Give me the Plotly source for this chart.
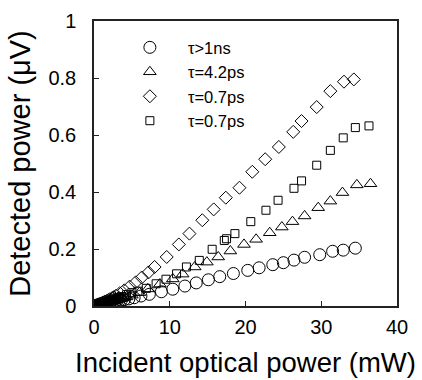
import plotly.graph_objects as go

# ---- data ----
names = ["τ>1ns", "τ=4.2ps", "τ=0.7ps", "τ=0.7ps"]

circ_x = [0.0, 0.15, 0.3, 0.45, 0.6, 0.75, 0.9, 1.05, 1.2, 1.4, 1.6, 1.8, 2.0, 2.2, 2.4, 2.6, 2.8,
          3.0, 3.3, 3.6, 4.0, 4.6, 5.3, 6.2, 7.3, 8.9,
          10.4, 12.0, 13.5, 15.1, 16.6, 18.4, 20.3, 21.8, 23.6, 25.0, 26.4, 27.8, 29.8, 31.5, 32.9, 34.5]
circ_y = [0.000, 0.001, 0.002, 0.003, 0.003, 0.004, 0.005, 0.006, 0.006, 0.007, 0.008, 0.010, 0.011,
          0.012, 0.013, 0.014, 0.015, 0.016, 0.018, 0.020, 0.022, 0.025,
          0.029, 0.035, 0.041, 0.050, 0.059, 0.070, 0.081, 0.092, 0.103, 0.114, 0.125, 0.134, 0.145,
          0.152, 0.161, 0.171, 0.180, 0.192, 0.196, 0.203]

tri_x = [0.0, 0.15, 0.3, 0.45, 0.6, 0.75, 0.9, 1.05, 1.2, 1.35, 1.5, 1.7, 1.9, 2.1, 2.3, 2.5, 2.7,
         2.9, 3.2, 3.5, 3.7, 4.0, 4.3, 5.0, 6.0, 7.1, 8.7, 10.4,
         11.7, 13.3, 14.9, 16.4, 18.0, 19.8, 21.4, 23.2, 24.8, 26.2, 27.8, 29.6, 31.2, 32.8, 34.7, 36.5]
tri_y = [0.000, 0.001, 0.002, 0.003, 0.004, 0.005, 0.006, 0.007, 0.008, 0.009, 0.010, 0.012, 0.013,
         0.015, 0.016, 0.018, 0.019, 0.021, 0.023, 0.026, 0.027, 0.030, 0.032, 0.038,
         0.047, 0.060, 0.077, 0.095, 0.112, 0.137, 0.154, 0.172, 0.193, 0.216, 0.234, 0.257, 0.277,
         0.296, 0.316, 0.345, 0.368, 0.398, 0.425, 0.429]

dia_x = [0.0, 0.15, 0.3, 0.45, 0.6, 0.75, 0.9, 1.05, 1.2, 1.35, 1.5, 1.7, 1.9, 2.1, 2.4, 2.6,
         2.9, 3.4, 4.0, 4.7, 5.5, 6.3, 7.2, 8.0, 9.6,
         11.2, 12.6, 14.3, 15.8, 17.4, 19.2, 20.9, 22.6, 24.4, 26.3, 27.4, 29.4, 31.2, 33.0, 34.3]
dia_y = [0.000, 0.001, 0.003, 0.004, 0.006, 0.007, 0.009, 0.010, 0.012, 0.014, 0.016, 0.018, 0.021,
         0.024, 0.028, 0.031, 0.036, 0.045, 0.055, 0.068, 0.083,
         0.100, 0.118, 0.137, 0.172, 0.216, 0.254, 0.301, 0.339, 0.380, 0.415, 0.471, 0.515, 0.558,
         0.611, 0.649, 0.698, 0.754, 0.787, 0.795]

sq_x = [0.0, 0.15, 0.3, 0.45, 0.6, 0.75, 0.9, 1.05, 1.2, 1.4, 1.6, 1.8, 2.0, 2.2, 2.5, 2.7, 3.0,
        3.3, 3.6, 4.3, 5.0, 5.8, 6.9, 8.2, 9.5, 10.9,
        12.2, 13.9, 15.6, 17.2, 17.5, 18.6, 20.7, 22.7, 24.3, 26.4, 27.4, 29.4, 31.2, 32.9, 34.5, 36.3]
sq_y = [0.000, 0.001, 0.002, 0.003, 0.004, 0.005, 0.007, 0.008, 0.010, 0.011, 0.013, 0.015, 0.017,
        0.019, 0.022, 0.024, 0.027, 0.030, 0.033, 0.040, 0.047, 0.052,
        0.062, 0.078, 0.094, 0.113, 0.137, 0.160, 0.199, 0.230, 0.236, 0.254, 0.296, 0.336, 0.371,
        0.413, 0.439, 0.494, 0.546, 0.590, 0.626, 0.632]

x_ticks = [0, 10, 20, 30, 40]
y_ticks = [0, 0.2, 0.4, 0.6, 0.8, 1]
y_ticktext = ["0", "0.2", "0.4", "0.6", "0.8", "1"]

FONT = "Arial, Liberation Sans, sans-serif"

series = [
    (circ_x, circ_y, "circle-open", 12),
    (tri_x, tri_y, "triangle-up-open", 11),
    (dia_x, dia_y, "diamond-open", 10),
    (sq_x, sq_y, "square-open", 8),
]

fig = go.Figure()
for (xs, ys, sym, sz), nm in zip(series, names):
    fig.add_trace(go.Scatter(
        x=xs, y=ys, mode="markers", name=nm,
        marker=dict(symbol=sym, size=sz, color="black", line=dict(color="black", width=1)),
    ))

axis_common = dict(
    showgrid=False, zeroline=False, showline=True, linecolor="#222", linewidth=1.5,
    mirror=True, ticks="inside", ticklen=5, tickwidth=1.2, tickcolor="#222",
    tickfont=dict(family=FONT, size=20, color="black"), automargin=False,
)

fig.update_layout(
    width=422, height=380,
    margin=dict(l=94, r=25, t=21, b=74, autoexpand=False),
    paper_bgcolor="white", plot_bgcolor="white",
    showlegend=True,
    legend=dict(
        x=0.059, y=0.968, xanchor="left", yanchor="top",
        bgcolor="rgba(0,0,0,0)", borderwidth=0,
        font=dict(family=FONT, size=16.5, color="black"),
        itemsizing="trace", itemwidth=66,
    ),
    xaxis=dict(
        range=[0, 40], tickvals=x_ticks, ticklabelstandoff=2,
        title=dict(text="Incident optical power (mW)", standoff=16,
                   font=dict(family=FONT, size=27.5, color="black")),
        **axis_common,
    ),
    yaxis=dict(
        range=[0, 1], tickvals=y_ticks, ticktext=y_ticktext, ticklabelstandoff=12,
        title=dict(text="Detected power (μV)", standoff=9,
                   font=dict(family=FONT, size=29, color="black")),
        **axis_common,
    ),
)

fig.write_html("out.html")
